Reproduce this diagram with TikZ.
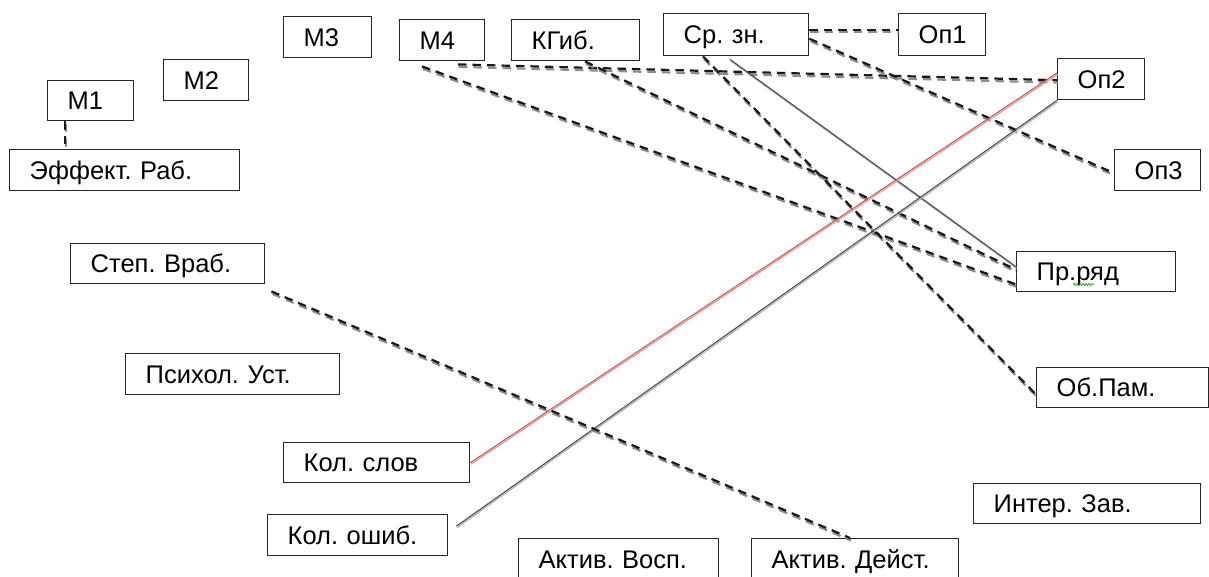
\documentclass[tikz,border=0pt]{standalone}
\usepackage{fontspec}
\setmainfont{Liberation Sans}
\usetikzlibrary{calc,decorations.pathmorphing}
\definecolor{redline}{RGB}{238,72,72}
\definecolor{shadowgray}{RGB}{140,140,140}
\tikzset{
  bx/.style={draw=black!85, line width=1.4pt, fill=white, anchor=north west,
    inner xsep=20pt, inner ysep=0pt, align=left,
    font=\fontsize{25.5}{25.5}\selectfont\frenchspacing, text height=18pt, text depth=0pt},
  dl/.style={draw=black!90, line width=2.2pt, dash pattern=on 8.5pt off 6pt,
    preaction={draw=shadowgray, line width=2.2pt, dash pattern=on 8.5pt off 6pt,
      transform canvas={xshift=1pt,yshift=-2.5pt}}},
  sl/.style={draw=black!70, line width=1.1pt,
    preaction={draw=shadowgray!70, line width=1.1pt,
      transform canvas={xshift=0.6pt,yshift=-1.5pt}}},
  rl/.style={draw=redline, line width=1.1pt,
    preaction={draw=shadowgray!70, line width=1.1pt,
      transform canvas={xshift=0.6pt,yshift=-1.5pt}}}
}
\begin{document}
\begin{tikzpicture}[x=1pt,y=-1pt]
\useasboundingbox (0,0) rectangle (1209,576);
% boxes
\node[bx, minimum height=40pt, text width=46pt]  (m1)    at (47,80)   {М1};
\node[bx, minimum height=41pt, text width=45pt]  (m2)    at (163,59)  {М2};
\node[bx, minimum height=41pt, text width=48pt]  (m3)    at (283,16)  {М3};
\node[bx, minimum height=41pt, text width=45pt]  (m4)    at (399,19)  {М4};
\node[bx, minimum height=41pt, text width=88pt]  (kgib)  at (511,19)  {КГиб.};
\node[bx, minimum height=42pt, text width=105pt] (srzn)  at (663,13)  {Ср. зн.};
\node[bx, minimum height=42pt, text width=47pt]  (op1)   at (898,13)  {Оп1};
\node[bx, minimum height=41pt, text width=47pt]  (op2)   at (1057,58) {Оп2};
\node[bx, minimum height=41pt, text width=46pt]  (op3)   at (1114,149){Оп3};
\node[bx, minimum height=41pt, text width=190pt] (eff)   at (9,149)   {Эффект. Раб.};
\node[bx, minimum height=40pt, text width=154pt] (stepv) at (70,243)  {Степ. Враб.};
\node[bx, minimum height=41pt, text width=174pt] (psych) at (125,353) {Психол. Уст.};
\node[bx, minimum height=40pt, text width=119pt] (prr)   at (1016,251){Пр.ряд};
\node[bx, minimum height=40pt, text width=132pt] (obpam) at (1036,367){Об.Пам.};
\node[bx, minimum height=40pt, text width=146pt] (kolsl) at (283,442) {Кол. слов};
\node[bx, minimum height=41pt, text width=140pt] (kolosh) at (267,514){Кол. ошиб.};
\node[bx, minimum height=42pt, text width=160pt] (aktv)  at (518,538) {Актив. Восп.};
\node[bx, minimum height=42pt, text width=167pt] (aktd)  at (751,538) {Актив. Дейст.};
\node[bx, minimum height=40pt, text width=187pt] (inter) at (973,483) {Интер. Зав.};
% spell-check squiggle
\coordinate (sq1) at ($(prr.south west)+(57,-8)$);
\coordinate (sq2) at ($(prr.south west)+(78,-8)$);
\draw[green!60!black, line width=0.6pt, decorate,
  decoration={snake, amplitude=1pt, segment length=3pt}] (sq1) -- (sq2);
% connectors
\draw[dl] ($(m1.south west)+(18,0)$) -- ($(eff.north west)+(56,0)$);
\draw[dl] ($(m4.south west)+(59,3)$) -- ($(op2.west)+(0,1)$);
\draw[dl] ($(m4.south west)+(23,5)$) -- ($(prr.south west)+(0,-8)$);
\draw[dl] ($(kgib.south west)+(74,0)$) -- ($(prr.west)+(0,-2)$);
\draw[dl] ($(srzn.east)+(0,-5)$) -- ($(op1.west)+(0,-5)$);
\draw[dl] ($(srzn.east)+(0,4)$) -- ($(op3.west)+(0,3)$);
\draw[dl] ($(srzn.south west)+(40,0)$) -- ($(obpam.south west)+(0,-14)$);
\draw[sl] ($(srzn.south west)+(67,3)$) -- ($(prr.west)+(0,-5)$);
\draw[rl] (kolsl.east) -- ($(op2.north west)+(0,15)$);
\draw[sl] ($(kolosh.east)+(8,-9)$) -- (op2.south west);
\draw[dl] ($(stepv.south east)+(6,7)$) -- ($(aktd.north west)+(99,0)$);
\end{tikzpicture}
\end{document}
